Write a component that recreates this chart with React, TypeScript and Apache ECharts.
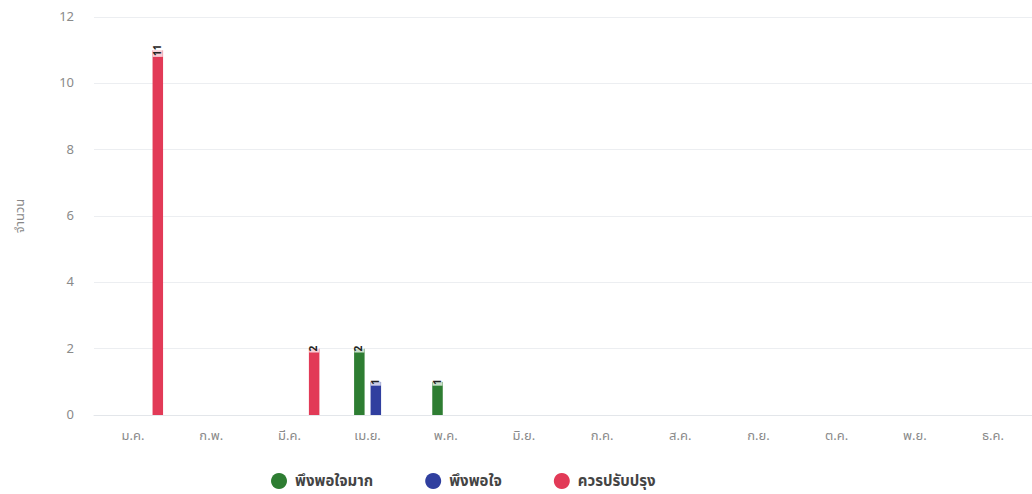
import React, { useEffect, useRef } from "react";
import * as echarts from "echarts";

const months = ["ม.ค.", "ก.พ.", "มี.ค.", "เม.ย.", "พ.ค.", "มิ.ย.", "ก.ค.", "ส.ค.", "ก.ย.", "ต.ค.", "พ.ย.", "ธ.ค."];
const yTicks = [0, 2, 4, 6, 8, 10, 12];
const seriesNames = ["พึงพอใจมาก", "พึงพอใจ", "ควรปรับปรุง"];
const emptySlot: (number | null)[] = [null, null, null, null, null, null, null, null, null, null, null, null];
const veryGood: (number | null)[] = [null, null, null, 2, 1, null, null, null, null, null, null, null];
const good: (number | null)[] = [null, null, null, 1, null, null, null, null, null, null, null, null];
const improve: (number | null)[] = [11, null, 2, null, null, null, null, null, null, null, null, null];
const colors = ["#2e7d32", "#303f9f", "#e23a57"];

const FONT = '"Noto Sans Thai", "Noto Sans", "DejaVu Sans", sans-serif';

export default function App() {
  const ref = useRef<HTMLDivElement>(null);
  useEffect(() => {
    if (!ref.current) return;
    const chart = echarts.init(ref.current, undefined, { renderer: "svg" });
    const label = {
      show: true,
      position: "top" as const,
      distance: 0,
      rotate: 90,
      align: "center" as const,
      verticalAlign: "middle" as const,
      color: "#222",
      fontSize: 10,
      fontWeight: "bold" as const,
      fontFamily: FONT,
      backgroundColor: "rgba(255,255,255,0.75)",
      padding: [0, 1],
    };
    const mk = (name: string, data: (number | null)[], color: string) => ({
      name,
      type: "bar" as const,
      data,
      barWidth: 10.5,
      barGap: "57%",
      itemStyle: { color },
      label,
    });
    chart.setOption({
      animation: false,
      textStyle: { fontFamily: FONT },
      grid: { left: 94, right: -4, top: 17, bottom: 79, containLabel: false },
      legend: {
        data: seriesNames.map((n) => ({ name: n, icon: "circle" })),
        left: 271,
        top: 472,
        padding: 0,
        itemWidth: 16,
        itemHeight: 16,
        itemGap: 52,
        textStyle: {
          color: "#444",
          fontSize: 15,
          lineHeight: 18,
          fontWeight: "bold",
          fontFamily: FONT,
          padding: [0, 0, 0, 3],
        },
      },
      xAxis: {
        type: "category",
        data: months,
        axisLine: { lineStyle: { color: "#e3e6ea" } },
        axisTick: { show: false },
        axisLabel: { color: "#8a8a8a", fontSize: 13, margin: 14, fontFamily: FONT },
      },
      yAxis: {
        type: "value",
        min: 0,
        max: yTicks[yTicks.length - 1],
        interval: 2,
        name: "จำนวน",
        nameLocation: "middle",
        nameGap: 68,
        nameTextStyle: { color: "#888", fontSize: 13, fontFamily: FONT },
        axisLine: { show: false },
        axisTick: { show: false },
        splitLine: { lineStyle: { color: "#eceef1" } },
        axisLabel: { color: "#8a8a8a", fontSize: 13, margin: 20, fontFamily: FONT },
      },
      series: [
        { ...mk("ไม่ระบุ", emptySlot, "#999"), label: { show: false } },
        mk(seriesNames[0], veryGood, colors[0]),
        mk(seriesNames[1], good, colors[1]),
        mk(seriesNames[2], improve, colors[2]),
      ],
    });
    return () => chart.dispose();
  }, []);
  return (
    <div
      ref={ref}
      style={{ position: "fixed", left: 0, top: 0, width: 1032, height: 494, background: "#fff" }}
    />
  );
}
